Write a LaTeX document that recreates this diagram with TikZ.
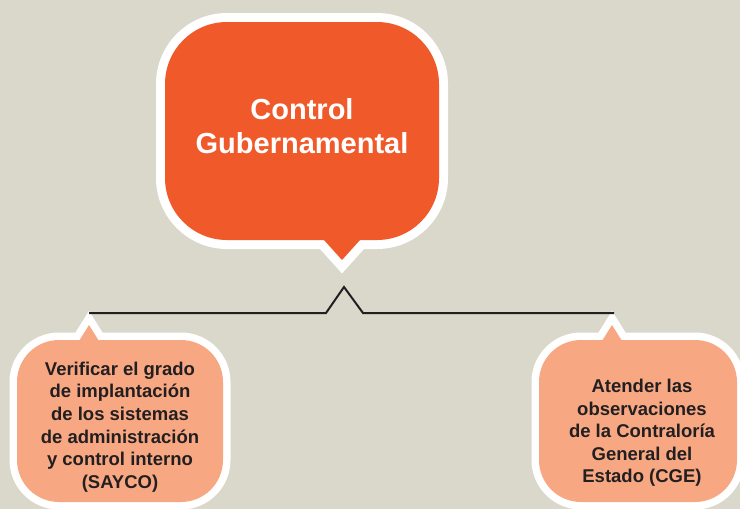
\documentclass[tikz,border=0pt]{standalone}
\usepackage{fontspec}
\setmainfont{Liberation Sans}
\definecolor{paper}{RGB}{218,215,203}
\definecolor{mainorange}{RGB}{240,90,42}
\definecolor{salmon}{RGB}{247,168,131}
\definecolor{ink}{RGB}{35,31,32}
\tikzset{
  bigrim/.style={draw=white, line width=18pt, line join=miter},
  smallrim/.style={draw=white, line width=15pt, line join=miter},
  bigtext/.style={align=center, text=white, inner sep=0pt,
    font=\fontsize{29}{34}\selectfont\bfseries},
  smalltext/.style={align=center, text=ink, inner sep=0pt,
    font=\fontsize{18.5}{22.6}\selectfont\bfseries},
  bracket/.style={draw=ink, line width=2pt, line join=miter}
}
\begin{document}
\begin{tikzpicture}[x=1pt,y=-1pt]
\useasboundingbox (0,0) rectangle (740,509);
\clip (0,0) rectangle (740,509);
\fill[paper] (0,0) rectangle (740,509);

% white rims of all bubbles
\path[bigrim, rounded corners=62pt] (165,22) rectangle (439,240);
\path[bigrim] (310.5,225) -- (342,260) -- (373.5,225) -- cycle;
\path[smallrim, rounded corners=42pt] (17,340) rectangle (223,502);
\path[smallrim] (64,365) -- (89,325) -- (114,365) -- cycle;
\path[smallrim, rounded corners=42pt] (539,340) rectangle (737,502);
\path[smallrim] (587,365) -- (612,325) -- (637,365) -- cycle;

% bubble bodies
\fill[mainorange, rounded corners=62pt] (165,22) rectangle (439,240);
\fill[mainorange] (310.5,225) -- (342,260) -- (373.5,225) -- cycle;
\fill[salmon, rounded corners=42pt] (17,340) rectangle (223,502);
\fill[salmon] (64,365) -- (89,325) -- (114,365) -- cycle;
\fill[salmon, rounded corners=42pt] (539,340) rectangle (737,502);
\fill[salmon] (587,365) -- (612,325) -- (637,365) -- cycle;

% texts
\node[bigtext] (title) at (302,126.5) {Control\\Gubernamental};
\node[smalltext] (left) at (120,427) {Verificar el grado\\de implantación\\de los sistemas\\de administración\\y control interno\\(SAYCO)};
\node[smalltext] (right) at (642,433) {Atender las\\observaciones\\de la Contraloría\\General del\\Estado (CGE)};

% bracket joining the two branches
\coordinate (lend) at (89,313);
\coordinate (bl) at (326,313);
\coordinate (apex) at (344,287);
\coordinate (br) at (363,313);
\coordinate (rend) at (614,313);
\draw[bracket] (lend) -- (bl) -- (apex) -- (br) -- (rend);
\end{tikzpicture}
\end{document}
